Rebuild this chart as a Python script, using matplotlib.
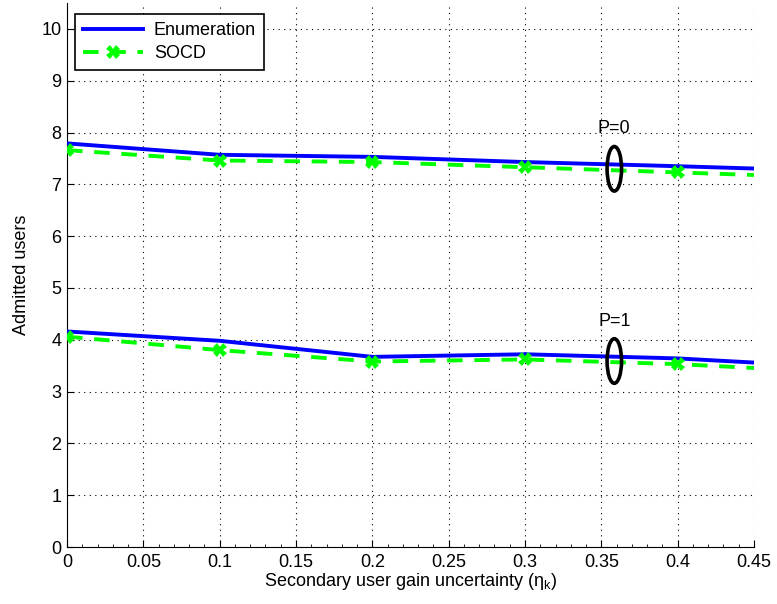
import matplotlib
matplotlib.use("Agg")
import matplotlib.pyplot as plt
from matplotlib.patches import Ellipse
from matplotlib.ticker import MultipleLocator

plt.rcParams['font.family'] = ['Liberation Sans', 'DejaVu Sans']

eta = [0.0, 0.1, 0.2, 0.3, 0.4, 0.5]
enum_p0 = [7.79, 7.57, 7.53, 7.43, 7.35, 7.26]
socd_p0 = [7.66, 7.46, 7.43, 7.33, 7.23, 7.13]
enum_p1 = [4.16, 3.98, 3.67, 3.72, 3.64, 3.48]
socd_p1 = [4.06, 3.80, 3.58, 3.62, 3.53, 3.38]

xticks = [0, 0.05, 0.1, 0.15, 0.2, 0.25, 0.3, 0.35, 0.4, 0.45]
xtick_labels = ['0', '0.05', '0.1', '0.15', '0.2', '0.25', '0.3', '0.35', '0.4', '0.45']
yticks = list(range(0, 11))

FS = 13

fig = plt.figure(figsize=(7.77, 6.04), dpi=100)
ax = fig.add_axes([67/777, 1 - 547/604, (754-67)/777, (547-3)/604])

blue = '#0000ff'
green = '#00ff00'
ax.plot(eta, enum_p0, color=blue, lw=2.8, label='Enumeration', zorder=3)
ax.plot(eta, socd_p0, color=green, lw=2.8, ls=(0, (4, 3)), marker='X', ms=10,
        markeredgewidth=0, label='SOCD', zorder=3)
ax.plot(eta, enum_p1, color=blue, lw=2.8, zorder=3)
ax.plot(eta, socd_p1, color=green, lw=2.8, ls=(0, (4, 3)), marker='X', ms=10,
        markeredgewidth=0, zorder=3)

for yc, txt, ty in [(7.30, 'P=0', 8.07), (3.59, 'P=1', 4.36)]:
    ax.add_patch(Ellipse((0.3585, yc), 0.0095, 0.86, fill=False, ec='black', lw=2.6, zorder=4))
    ax.text(0.3585, ty, txt, ha='center', va='center', fontsize=FS)

ax.set_xlim(0, 0.45)
ax.set_ylim(0, 10.5)
ax.set_xticks(xticks)
ax.set_xticklabels(xtick_labels)
ax.set_yticks(yticks)
ax.xaxis.set_minor_locator(MultipleLocator(0.01))
ax.tick_params(direction='in', which='both', labelsize=FS, top=False, right=False)
ax.tick_params(which='major', length=5)
ax.tick_params(which='minor', length=2.5)
ax.tick_params(axis='x', pad=5)
ax.tick_params(axis='y', pad=4)
ax.grid(True, which='major', ls=(0, (1, 4)), color='black', lw=0.8)
ax.spines['top'].set_visible(False)
ax.spines['right'].set_visible(False)

ax.set_xlabel(r'Secondary user gain uncertainty ($\mathregular{\eta_k}$)', fontsize=FS, labelpad=0)
ax.set_ylabel('Admitted users', fontsize=FS, labelpad=8)

leg = ax.legend(loc='upper left', fontsize=FS, fancybox=False, framealpha=1,
                edgecolor='black', handlelength=3.3, borderaxespad=0.0,
                borderpad=0.45, labelspacing=0.35, handletextpad=0.6,
                bbox_to_anchor=(0.012, 0.98))
leg.get_frame().set_linewidth(1.2)

fig.savefig('out.png', dpi=100)
